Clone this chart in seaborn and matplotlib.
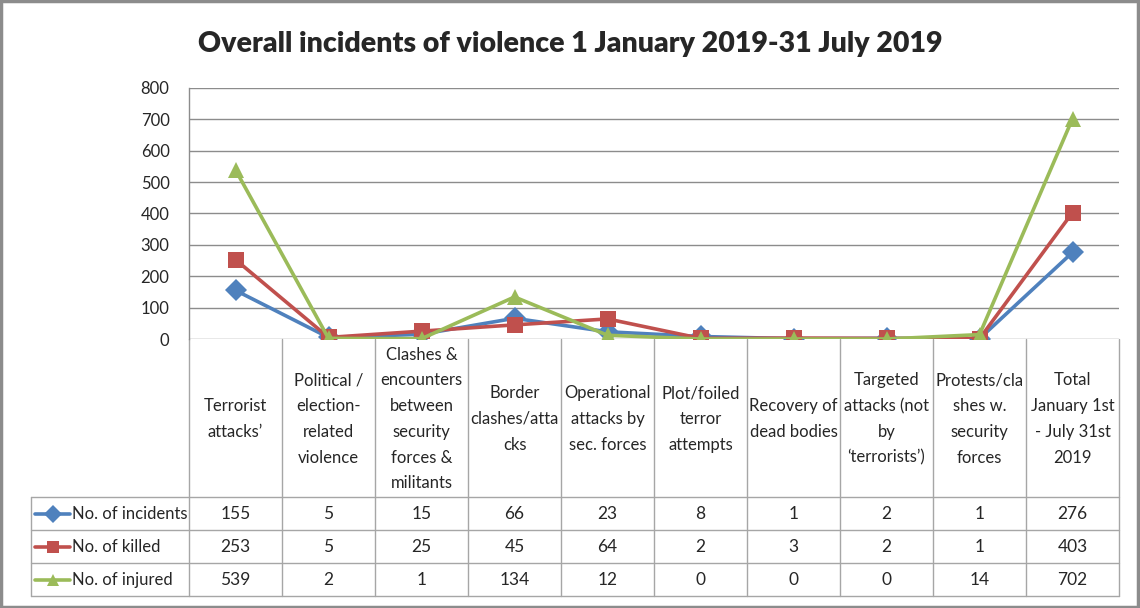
import numpy as np
import pandas as pd
import seaborn as sns
import matplotlib.pyplot as plt
from matplotlib.transforms import blended_transform_factory
from matplotlib.lines import Line2D

# data
categories = [
    "Terrorist\nattacks’",
    "Political /\nelection-\nrelated\nviolence",
    "Clashes &\nencounters\nbetween\nsecurity\nforces &\nmilitants",
    "Border\nclashes/atta\ncks",
    "Operational\nattacks by\nsec. forces",
    "Plot/foiled\nterror\nattempts",
    "Recovery of\ndead bodies",
    "Targeted\nattacks (not\nby\n‘terrorists’)",
    "Protests/cla\nshes w.\nsecurity\nforces",
    "Total\nJanuary 1st\n- July 31st\n2019",
]
series_names = ["No. of incidents", "No. of killed", "No. of injured"]
incidents = [155, 5, 15, 66, 23, 8, 1, 2, 1, 276]
killed = [253, 5, 25, 45, 64, 2, 3, 2, 1, 403]
injured = [539, 2, 1, 134, 12, 0, 0, 0, 14, 702]
colors = ["#4F81BD", "#C0504D", "#9BBB59"]
markers = ["D", "s", "^"]

sns.set_style("white")
plt.rcParams["font.family"] = ["Lato", "DejaVu Sans"]

W, H = 1140, 608
fig = plt.figure(figsize=(W / 100, H / 100), dpi=100)

def fy(p):
    return 1 - p / H

ax = fig.add_axes([189 / W, fy(339), 930 / W, (339 - 88) / H])

rows = []
for name, vals in zip(series_names, [incidents, killed, injured]):
    for i, v in enumerate(vals):
        rows.append({"pos": i, "value": v, "series": name})
df = pd.DataFrame(rows)

sns.lineplot(data=df, x="pos", y="value", hue="series", style="series",
             palette=dict(zip(series_names, colors)),
             markers=dict(zip(series_names, markers)), dashes=False,
             linewidth=2.6, markersize=11, markeredgewidth=0,
             legend=False, ax=ax, zorder=3)

ax.set_xlim(-0.5, len(categories) - 0.5)
ax.set_ylim(0, 800)
ax.set_yticks(range(0, 801, 100))
ax.yaxis.grid(True, color="#8C8C8C", linewidth=1)
ax.set_axisbelow(True)
ax.set_xticks([])
ax.set_xlabel("")
ax.set_ylabel("")
ax.tick_params(axis="y", labelsize=12, pad=14, length=0)
for s in ["top", "right", "bottom"]:
    ax.spines[s].set_visible(False)
ax.spines["left"].set_color("#8C8C8C")
ax.spines["left"].set_linewidth(1)

fig.text(0.5, fy(44), "Overall incidents of violence 1 January 2019-31 July 2019",
         ha="center", va="center", fontsize=20.5, fontweight="heavy")

# data table under the chart
tr = blended_transform_factory(ax.transData, fig.transFigure)
gc = "#A6A6A6"
for k in range(len(categories) + 1):
    x = k - 0.5
    ax.add_line(Line2D([x, x], [fy(339), fy(596)], transform=tr, color=gc,
                       lw=1, clip_on=False))
for p in [497, 530, 563, 596]:
    fig.add_artist(Line2D([31 / W, 1119 / W], [fy(p), fy(p)], color=gc, lw=1))
fig.add_artist(Line2D([31 / W, 31 / W], [fy(497), fy(596)], color=gc, lw=1))

for i, lab in enumerate(categories):
    ax.text(i, fy(419), lab, transform=tr, ha="center", va="center",
            fontsize=12, linespacing=1.75)

row_y = [514, 547, 580]
for name, vals, c, m, yy in zip(series_names, [incidents, killed, injured],
                                colors, markers, row_y):
    fig.add_artist(Line2D([35 / W, 70 / W], [fy(yy), fy(yy)], color=c, lw=2.6))
    fig.add_artist(Line2D([52.5 / W], [fy(yy)], color=c, marker=m,
                          markersize=9, markeredgewidth=0, lw=0))
    fig.text(72 / W, fy(yy), name, ha="left", va="center", fontsize=12)
    for i, v in enumerate(vals):
        ax.text(i, fy(yy), str(v), transform=tr, ha="center", va="center",
                fontsize=12.5)

# outer frame
fig.add_artist(plt.Rectangle((0.001, 0.002), 0.997, 0.996, fill=False,
                             edgecolor="#8C8C8C", lw=2.5,
                             transform=fig.transFigure))

fig.savefig("out.png", dpi=100)
